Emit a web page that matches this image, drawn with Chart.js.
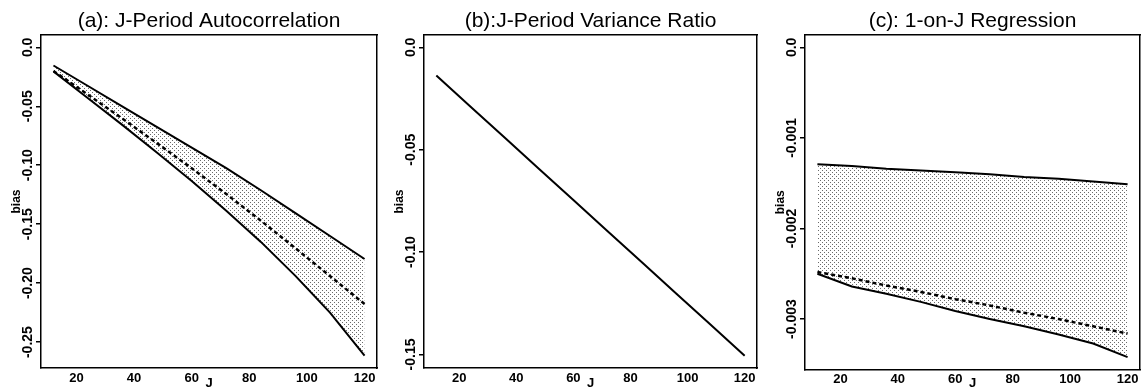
<!DOCTYPE html>
<html>
<head>
<meta charset="utf-8">
<script src="https://cdn.jsdelivr.net/npm/chart.js@4"></script>
<style>
  body { margin: 0; background: #fff; }
  .panel { position: absolute; top: 0; }
</style>
</head>
<body>
<div class="panel" style="left:0px"><canvas id="chartA" width="380" height="392"></canvas></div>
<div class="panel" style="left:380px"><canvas id="chartB" width="380" height="392"></canvas></div>
<div class="panel" style="left:760px"><canvas id="chartC" width="382" height="392"></canvas></div>
<script>
// horizon J (months)
const J = [12, 24, 36, 48, 60, 72, 84, 96, 108, 120];

// (a) J-period autocorrelation: bounds (solid) and mean bias (dashed)
const acUpper = [-0.0154, -0.0328, -0.0502, -0.0676, -0.0850, -0.1025, -0.1212, -0.1406, -0.1600, -0.1795];
const acLower = [-0.0204, -0.0432, -0.0660, -0.0894, -0.1134, -0.1386, -0.1650, -0.1938, -0.2250, -0.2615];
const acMean  = [-0.0200, -0.0402, -0.0606, -0.0814, -0.1026, -0.1244, -0.1470, -0.1704, -0.1940, -0.2177];

// (b) J-period variance ratio
const vrBias = [-0.0138, -0.0290, -0.0442, -0.0594, -0.0746, -0.0898, -0.1050, -0.1202, -0.1354, -0.1506];

// (c) 1-on-J regression
const regUpper = [-0.00129, -0.00131, -0.00134, -0.00136, -0.00138, -0.00140, -0.00143, -0.00145, -0.00148, -0.00151];
const regLower = [-0.00250, -0.00264, -0.00272, -0.00281, -0.00291, -0.00300, -0.00308, -0.00317, -0.00327, -0.00342];
const regMean  = [-0.00248, -0.00255, -0.00263, -0.00270, -0.00278, -0.00285, -0.00293, -0.00300, -0.00308, -0.00316];

// tick values + labels
const jTicks = [20, 40, 60, 80, 100, 120];
const acTicks = [0, -0.05, -0.10, -0.15, -0.20, -0.25];
const acTickLabels = ['0.0', '-0.05', '-0.10', '-0.15', '-0.20', '-0.25'];
const vrTicks = [0, -0.05, -0.10, -0.15];
const vrTickLabels = ['0.0', '-0.05', '-0.10', '-0.15'];
const regTicks = [0, -0.001, -0.002, -0.003];
const regTickLabels = ['0.0', '-0.001', '-0.002', '-0.003'];

Chart.defaults.color = '#000';
Chart.defaults.font.family = '"Liberation Sans", Arial, sans-serif';

const yTickFamily = '"Liberation Sans Narrow", "Liberation Sans", Arial, sans-serif';
const yTickSize = 14;

// R style axis range: data range (with 0) widened by 4% each side
const rRange = (values, withZero) => {
    let lo = Math.min(...values), hi = Math.max(...values);
    if (withZero) { lo = Math.min(lo, 0); hi = Math.max(hi, 0); }
    const d = (hi - lo) * 0.04;
    return [lo - d, hi + d];
};

const toPoints = (ys) => J.map((j, i) => ({ x: j, y: ys[i] }));

// stippled fill like the printed figure
const makeStipple = () => {
    const c = document.createElement('canvas');
    c.width = 4; c.height = 4;
    const g = c.getContext('2d');
    g.fillStyle = '#6a6a6a';
    g.fillRect(0, 0, 1, 1);
    g.fillRect(2, 2, 1, 1);
    return g.createPattern(c, 'repeat');
};

// padding so the rotated y labels sit centred ~12px left of the frame
const yLabelPad = (labels) => {
    const m = document.createElement('canvas').getContext('2d');
    m.font = 'bold ' + yTickSize + 'px ' + yTickFamily;
    const widest = Math.max(...labels.map(l => m.measureText(l).width));
    return 12.5 - 5 - widest / 2;
};

const makePanel = (id, p) => {
    const xr = rRange(J, false);
    const yr = rRange(p.allValues, true);
    const ctx = document.getElementById(id).getContext('2d');
    return new Chart(ctx, {
        type: 'line',
        data: { datasets: p.datasets },
        options: {
            responsive: false,
            animation: false,
            devicePixelRatio: 1,
            layout: { padding: { left: 0, right: p.padRight, top: 0, bottom: 0 } },
            elements: { point: { radius: 0 }, line: { tension: 0 } },
            plugins: {
                legend: { display: false },
                tooltip: { enabled: false },
                filler: { drawTime: 'beforeDatasetsDraw' },
                title: {
                    display: true,
                    text: p.title,
                    fullSize: false,
                    color: '#000',
                    font: { size: 21, weight: 'normal' },
                    padding: { top: 8.4, bottom: 1.4 }
                }
            },
            scales: {
                x: {
                    type: 'linear',
                    position: 'bottom',
                    min: xr[0], max: xr[1],
                    afterBuildTicks: (s) => { s.ticks = jTicks.map(v => ({ value: v })); },
                    afterFit: (s) => { s.height = p.bottomH; },
                    grid: { display: false, drawTicks: false },
                    border: { display: true, color: '#000', width: 1.5 },
                    ticks: {
                        autoSkip: false, maxRotation: 0, padding: 2.5,
                        font: { size: 13, weight: 'bold' },
                        callback: (v, i) => String(jTicks[i])
                    },
                    title: {
                        display: true, text: 'J',
                        font: { size: 13, weight: 'bold' },
                        padding: { top: 0, bottom: 1 }
                    }
                },
                y: {
                    type: 'linear',
                    position: 'left',
                    min: yr[0], max: yr[1],
                    afterBuildTicks: (s) => { s.ticks = p.yTicks.map(v => ({ value: v })); },
                    afterFit: (s) => { s.width = p.axisW; },
                    grid: { display: true, drawOnChartArea: false, drawTicks: true, tickLength: 5, color: '#000', lineWidth: 1.5 },
                    border: { display: true, color: '#000', width: 1.5 },
                    ticks: {
                        autoSkip: false, minRotation: 90, maxRotation: 90,
                        crossAlign: 'center',
                        padding: yLabelPad(p.yLabels),
                        font: { size: yTickSize, weight: 'bold', family: yTickFamily },
                        callback: (v, i) => p.yLabels[i]
                    },
                    title: {
                        display: true, text: 'bias',
                        font: { size: 12, weight: 'bold' },
                        padding: { top: p.axisW - 24 - 7.2, bottom: 0 }
                    }
                },
                // top + right scales only to close the frame
                xt: {
                    type: 'linear', position: 'top', min: 0, max: 1,
                    afterFit: (s) => { s.height = 0; },
                    grid: { display: false, drawTicks: false },
                    ticks: { display: false },
                    border: { display: true, color: '#000', width: 1.5 }
                },
                yr: {
                    type: 'linear', position: 'right', min: 0, max: 1,
                    afterFit: (s) => { s.width = 0; },
                    grid: { display: false, drawTicks: false },
                    ticks: { display: false },
                    border: { display: true, color: '#000', width: 1.5 }
                }
            }
        }
    });
};

const stipple = makeStipple();

const solid = (ys, extra) => Object.assign({
    data: toPoints(ys), borderColor: '#000', borderWidth: 2, fill: false
}, extra || {});
const dashed = (ys) => ({
    data: toPoints(ys), borderColor: '#000', borderWidth: 2.5, borderDash: [4, 3], fill: false
});

makePanel('chartA', {
    title: '(a): J-Period Autocorrelation',
    axisW: 41, padRight: 3, bottomH: 24,
    yTicks: acTicks, yLabels: acTickLabels,
    allValues: acUpper.concat(acLower, acMean),
    datasets: [
        solid(acUpper, { fill: 1, backgroundColor: stipple }),
        solid(acLower),
        dashed(acMean)
    ]
});

makePanel('chartB', {
    title: '(b):J-Period Variance Ratio',
    axisW: 44, padRight: 3, bottomH: 24,
    yTicks: vrTicks, yLabels: vrTickLabels,
    allValues: vrBias,
    datasets: [ solid(vrBias) ]
});

makePanel('chartC', {
    title: '(c): 1-on-J Regression',
    axisW: 45, padRight: 2, bottomH: 22.5,
    yTicks: regTicks, yLabels: regTickLabels,
    allValues: regUpper.concat(regLower, regMean),
    datasets: [
        solid(regUpper, { fill: 1, backgroundColor: stipple }),
        solid(regLower),
        dashed(regMean)
    ]
});
</script>
</body>
</html>
